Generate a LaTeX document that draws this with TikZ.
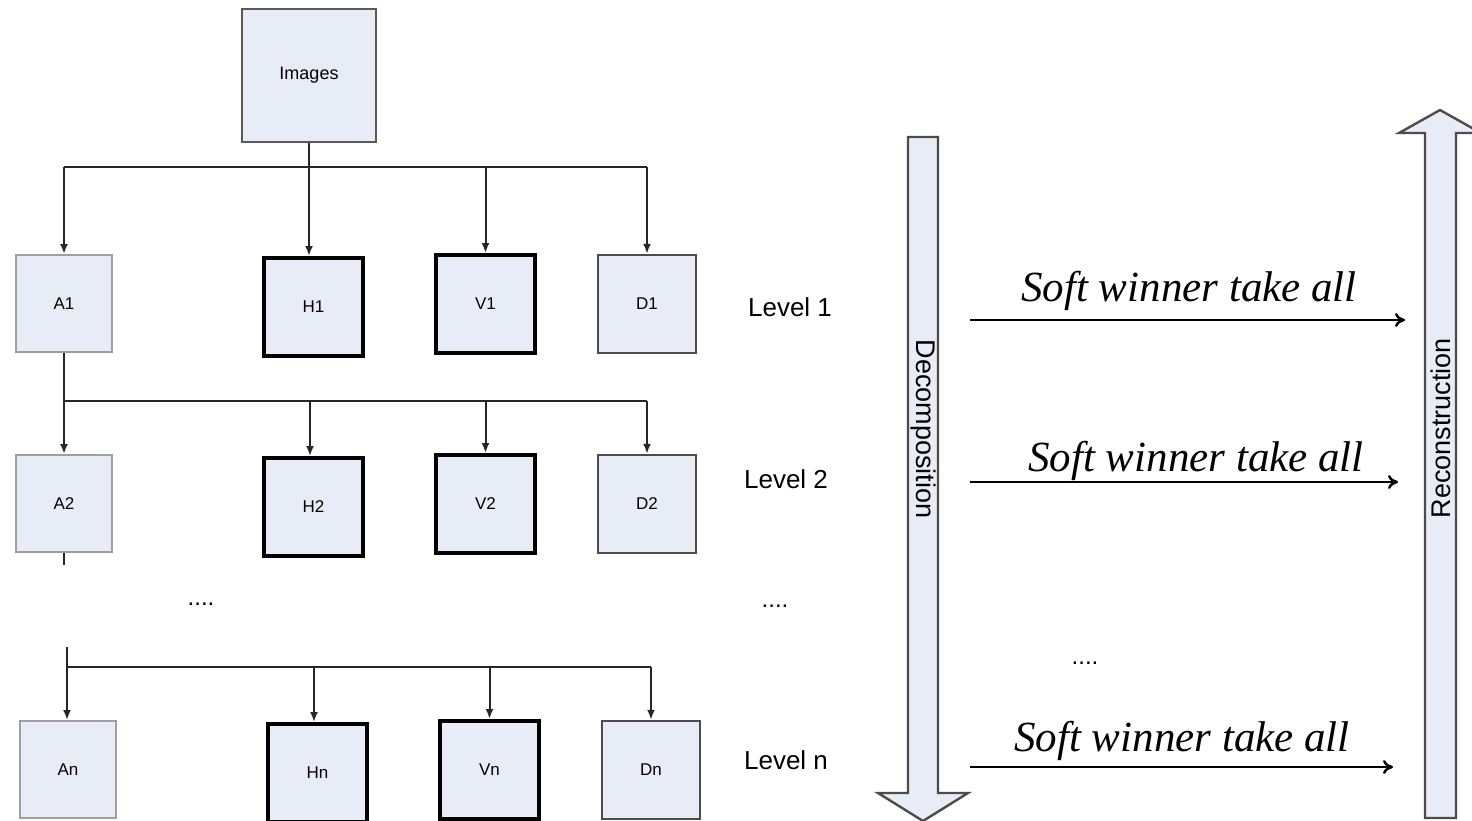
\documentclass[tikz,border=0pt]{standalone}
\usepackage{fontspec}
\setmainfont{Liberation Serif}
\setsansfont{Liberation Sans}
\usetikzlibrary{arrows.meta}
\definecolor{boxfill}{RGB}{232,236,246}
\begin{document}
\begin{tikzpicture}[x=0.5pt,y=-0.5pt,
  box/.style={fill=boxfill,inner sep=0pt,font=\sffamily\fontsize{8.5}{10}\selectfont},
  thinbox/.style={box,draw=gray!75,line width=1pt,minimum width=48pt,minimum height=48.5pt},
  thickbox/.style={box,draw=black,line width=2pt,minimum width=49.5pt,minimum height=49pt},
  midbox/.style={box,draw=black!70,line width=1.2pt,minimum width=49pt,minimum height=49pt},
  wire/.style={line width=1pt,draw=black!85},
  feed/.style={wire,-{Latex[length=5pt,width=4pt]}},
  lvl/.style={font=\sffamily\fontsize{13}{15}\selectfont},
  dots/.style={font=\sffamily\fontsize{12}{14}\selectfont},
  flow/.style={line width=1.2pt,-{To[length=5pt,width=7pt]}},
  swta/.style={font=\itshape\fontsize{21.5}{25}\selectfont,anchor=base,inner sep=0pt},
  bigarrow/.style={fill=boxfill,draw=black!70,line width=1.2pt,line join=miter},
  vlabel/.style={font=\sffamily\fontsize{13.5}{16}\selectfont},
]
\useasboundingbox[fill=white] (0,0) rectangle (1472,820);

% source image
\node[box,draw=black!65,line width=1.2pt,minimum width=67pt,minimum height=66.5pt,
      font=\sffamily\fontsize{9}{10}\selectfont] (img) at (309,75.5) {Images};

% level 1 sub-bands
\node[thinbox]  (a1) at (64,303.5)  {A1};
\node[thickbox] (h1) at (313.5,307) {H1};
\node[thickbox] (v1) at (485.5,304) {V1};
\node[midbox]   (d1) at (647,304)   {D1};

% level 2 sub-bands
\node[thinbox]  (a2) at (64,503.5)  {A2};
\node[thickbox] (h2) at (313.5,507) {H2};
\node[thickbox] (v2) at (485.5,504) {V2};
\node[midbox]   (d2) at (647,504)   {D2};

% level n sub-bands
\node[thinbox]  (an) at (68,769.5)  {An};
\node[thickbox] (hn) at (317.5,773) {Hn};
\node[thickbox] (vn) at (489.5,770) {Vn};
\node[midbox]   (dn) at (651,770)   {Dn};

% level labels
\node[lvl] (l1) at (790,307) {Level 1};
\node[lvl] (l2) at (786,479) {Level 2};
\node[lvl] (ln) at (786,760) {Level n};

% ellipses
\node[dots] (dl) at (201,604) {....};
\node[dots] (dr) at (775,606) {....};
\node[dots] (dm) at (1085,663) {....};

% first decomposition
\coordinate (bus1) at (0,167);
\draw[feed] (img.south) -- (img.south |- h1.north);
\draw[wire] (a1.north |- bus1) -- (d1.north |- bus1);
\draw[feed] (a1.north |- bus1) -- (a1.north);
\draw[feed] (v1.north |- bus1) -- (v1.north);
\draw[feed] (d1.north |- bus1) -- (d1.north);

% second decomposition
\coordinate (bus2) at (0,401);
\draw[wire] (a1.south) -- (a1.south |- bus2);
\draw[wire] (a1.south |- bus2) -- (d2.north |- bus2);
\draw[feed] (a2.north |- bus2) -- (a2.north);
\draw[feed] ([xshift=-1.75pt]h2.north |- bus2) -- ([xshift=-1.75pt]h2.north);
\draw[feed] (v2.north |- bus2) -- (v2.north);
\draw[feed] (d2.north |- bus2) -- (d2.north);

% last decomposition
\coordinate (stub2) at (64,565);
\draw[wire] (a2.south) -- (stub2);
\coordinate (stubn) at (67,647);
\coordinate (busn) at (0,667);
\draw[wire] (stubn) -- (stubn |- busn) -- (dn.north |- busn);
\draw[feed] (stubn |- busn) -- (stubn |- an.north);
\draw[feed] ([xshift=-1.75pt]hn.north |- busn) -- ([xshift=-1.75pt]hn.north);
\draw[feed] (vn.north |- busn) -- (vn.north);
\draw[feed] (dn.north |- busn) -- (dn.north);

% decomposition / reconstruction block arrows
\draw[bigarrow] (908,137) -- (938,137) -- (938,793) -- (968,793) -- (923,821)
  -- (878,793) -- (908,793) -- cycle;
\node[vlabel,rotate=-90] (dec) at (923,429) {Decomposition};
\draw[bigarrow] (1425,818) -- (1425,133) -- (1399,133) -- (1440,110)
  -- (1481,133) -- (1456,133) -- (1456,818) -- cycle;
\node[vlabel,rotate=90] (rec) at (1441,428) {Reconstruction};

% soft winner take all steps
\coordinate (s1a) at (970,320);  \coordinate (s1b) at (1405,320);
\coordinate (s2a) at (970,482);  \coordinate (s2b) at (1398,482);
\coordinate (s3a) at (970,767);  \coordinate (s3b) at (1393,767);
\draw[flow] (s1a) -- (s1b);
\draw[flow] (s2a) -- (s2b);
\draw[flow] (s3a) -- (s3b);
\node[swta] (w1) at (1189,301) {Soft winner take all};
\node[swta] (w2) at (1196,471) {Soft winner take all};
\node[swta] (w3) at (1182,751) {Soft winner take all};
\end{tikzpicture}
\end{document}
